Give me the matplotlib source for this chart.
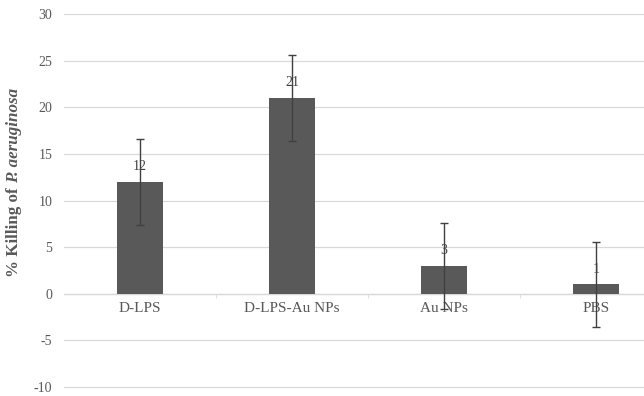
import matplotlib
matplotlib.use("Agg")
import matplotlib.pyplot as plt
import numpy as np

categories = ["D-LPS", "D-LPS-Au NPs", "Au NPs", "PBS"]
values = [12, 21, 3, 1]
errors = [4.6, 4.6, 4.6, 4.6]
yticks = [-10, -5, 0, 5, 10, 15, 20, 25, 30]

plt.rcParams['font.family'] = ['Liberation Serif', 'DejaVu Serif']

W, H = 644, 396
fig = plt.figure(figsize=(W/100, H/100), dpi=100)
left, right = 64, 644
top, bottom = 10, 391
ppu = (387 - 14) / 40.0
ymin = -10 - (bottom - 387) / ppu
ymax = 30 + (14 - top) / ppu
ax = fig.add_axes([left/W, 1-bottom/H, (right-left)/W, (bottom-top)/H])

gray = '#595959'
x = np.arange(len(categories))
ax.bar(x, values, width=0.30, color=gray, zorder=3)
ax.errorbar(x, values, yerr=errors, fmt='none', ecolor='#404040', elinewidth=1.0,
            capsize=3, capthick=1.0, zorder=4)
for xi, v in zip(x, values):
    ax.annotate(str(v), (xi, v), xytext=(0, 11), textcoords='offset points',
                ha='center', va='center', fontsize=10, color='#404040', zorder=5)

ax.set_ylim(ymin, ymax)
ax.set_xlim(-0.5, 3.5 - (672-644)/152)
ax.set_yticks(yticks)
ax.set_yticklabels([str(t) for t in yticks])
ax.grid(axis='y', color='#d9d9d9', linewidth=0.9, zorder=0)
for s in ['top', 'right', 'left']:
    ax.spines[s].set_visible(False)
ax.spines['bottom'].set_position(('data', 0))
ax.spines['bottom'].set_color('#d9d9d9')
ax.spines['bottom'].set_linewidth(0.9)
ax.spines['bottom'].set_zorder(1)
ax.set_xticks(x)
ax.set_xticklabels(categories)
ax.set_xticks([0.5, 1.5, 2.5], minor=True)
ax.tick_params(axis='x', which='major', length=0, pad=6, labelsize=11, labelcolor=gray)
ax.tick_params(axis='x', which='minor', length=3, color='#d9d9d9', direction='out')
ax.tick_params(axis='y', length=0, pad=8.5, labelsize=10, labelcolor=gray)

# y label: bold upright part + bold italic part, stacked along rotation
fs = 12
xc = 14 / W
t1 = fig.text(xc, 0, "% Killing of ", rotation=90, ha='center', va='bottom',
              fontsize=fs, fontweight='bold', color=gray)
t2 = fig.text(xc, 0, "P. aeruginosa", rotation=90, ha='center', va='bottom',
              fontsize=fs, fontweight='bold', fontstyle='italic', color=gray)
fig.canvas.draw()
r = fig.canvas.get_renderer()
h1 = t1.get_window_extent(r).height
h2 = t2.get_window_extent(r).height
total = h1 + h2
target = 277 - 88
scale = target / total
t1.set_fontsize(fs * scale)
t2.set_fontsize(fs * scale)
fig.canvas.draw()
h1 = t1.get_window_extent(r).height
h2 = t2.get_window_extent(r).height
total = h1 + h2
center_y = H - 182.5
y0 = center_y - total / 2
t1.set_position((xc, y0 / H))
t2.set_position((xc, (y0 + h1) / H))

fig.savefig('out.png', dpi=100)
